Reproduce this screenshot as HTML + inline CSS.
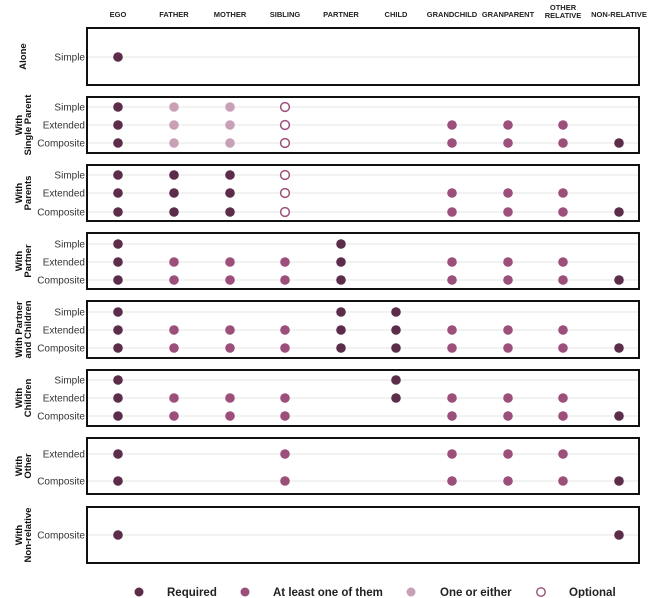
<!DOCTYPE html>
<html><head><meta charset="utf-8"><style>
html,body{margin:0;padding:0;background:#fff;}
svg{display:block;font-family:"Liberation Sans",sans-serif;}
</style></head><body>
<svg id="s" width="652" height="598" xmlns="http://www.w3.org/2000/svg"></svg>
<script>
const s=document.getElementById('s');let h='';
const cols=['EGO','FATHER','MOTHER','SIBLING','PARTNER','CHILD','GRANDCHILD','GRANPARENT','OTHER RELATIVE','NON-RELATIVE'];
const cx=[118,174,230,285,341,396,452,508,563,619];
const R='#5c2d4a',A='#9b4f7a',L='#c9a1b6';
cols.forEach((c,i)=>{
 if(c==='OTHER RELATIVE'){h+=`<text x="${cx[i]}" y="10" font-size="7.5" font-weight="bold" text-anchor="middle" fill="#222">OTHER</text><text x="${cx[i]}" y="18" font-size="7.5" font-weight="bold" text-anchor="middle" fill="#222">RELATIVE</text>`;}
 else h+=`<text x="${cx[i]}" y="17" font-size="7.5" font-weight="bold" text-anchor="middle" fill="#222">${c}</text>`;
});
const panels=[
 {t:28,b:85,lab:['Alone'],rows:[['Simple',57,[[0,R]]]]},
 {t:97,b:153,lab:['With','Single Parent'],rows:[['Simple',107],['Extended',125],['Composite',143]],base:[[0,R],[1,L],[2,L],[3,'O']]},
 {t:165,b:221,lab:['With','Parents'],rows:[['Simple',175],['Extended',193],['Composite',212]],base:[[0,R],[1,R],[2,R],[3,'O']]},
 {t:233,b:289,lab:['With','Partner'],rows:[['Simple',244,[[0,R],[4,R]]],['Extended',262],['Composite',280]],base:[[0,R],[1,A],[2,A],[3,A],[4,R]]},
 {t:301,b:358,lab:['With Partner','and Children'],rows:[['Simple',312,[[0,R],[4,R],[5,R]]],['Extended',330],['Composite',348]],base:[[0,R],[1,A],[2,A],[3,A],[4,R],[5,R]]},
 {t:370,b:426,lab:['With','Children'],rows:[['Simple',380,[[0,R],[5,R]]],['Extended',398,[[0,R],[1,A],[2,A],[3,A],[5,R],[6,A],[7,A],[8,A]]],['Composite',416,[[0,R],[1,A],[2,A],[3,A],[6,A],[7,A],[8,A],[9,R]]]]},
 {t:438,b:494,lab:['With','Other'],rows:[['Extended',454],['Composite',481]],base:[[0,R],[3,A]]},
 {t:507,b:563,lab:['With','Non-relative'],rows:[['Composite',535,[[0,R],[9,R]]]]}
];
const ext=[[6,A],[7,A],[8,A]],comp=[[9,R]];
panels.forEach(p=>{
 const my=(p.t+p.b)/2;
 p.rows.forEach(r=>{h+=`<line x1="87" x2="639" y1="${r[1]}" y2="${r[1]}" stroke="#e6e6e6" stroke-width="1"/>`;});
 h+=`<rect x="87" y="${p.t}" width="552" height="${p.b-p.t}" fill="none" stroke="#111" stroke-width="2"/>`;
 if(p.lab.length==1)h+=`<text transform="translate(26,${my}) rotate(-90)" font-size="9.5" font-weight="bold" text-anchor="middle" fill="#111">${p.lab[0]}</text>`;
 else{h+=`<text transform="translate(22,${my}) rotate(-90)" font-size="9.5" font-weight="bold" text-anchor="middle" fill="#111">${p.lab[0]}</text><text transform="translate(31,${my}) rotate(-90)" font-size="9.5" font-weight="bold" text-anchor="middle" fill="#111">${p.lab[1]}</text>`;}
 p.rows.forEach(r=>{
  h+=`<text x="85" y="${r[1]+3.5}" font-size="10" text-anchor="end" fill="#333">${r[0]}</text>`;
  let pts=r[2];
  if(!pts){pts=p.base.slice();if(r[0]!=='Simple')pts=pts.concat(ext);if(r[0]==='Composite')pts=pts.concat(comp);}
  pts.forEach(([i,c])=>{
   if(c==='O')h+=`<circle cx="${cx[i]}" cy="${r[1]}" r="4.4" fill="#fff" stroke="${A}" stroke-width="1.5"/>`;
   else h+=`<circle cx="${cx[i]}" cy="${r[1]}" r="4.8" fill="${c}"/>`;
  });
 });
});
const lg=[[139,R,'Required',167],[245,A,'At least one of them',273],[411,L,'One or either',440],[541,'O','Optional',569]];
lg.forEach(([x,c,t,tx])=>{
 if(c==='O')h+=`<circle cx="${x}" cy="592" r="4.2" fill="#fff" stroke="${A}" stroke-width="1.4"/>`;
 else h+=`<circle cx="${x}" cy="592" r="4.5" fill="${c}"/>`;
 h+=`<text x="${tx}" y="596" font-size="11.5" font-weight="bold" fill="#222">${t}</text>`;
});
s.innerHTML=h;
</script>
</body></html>
